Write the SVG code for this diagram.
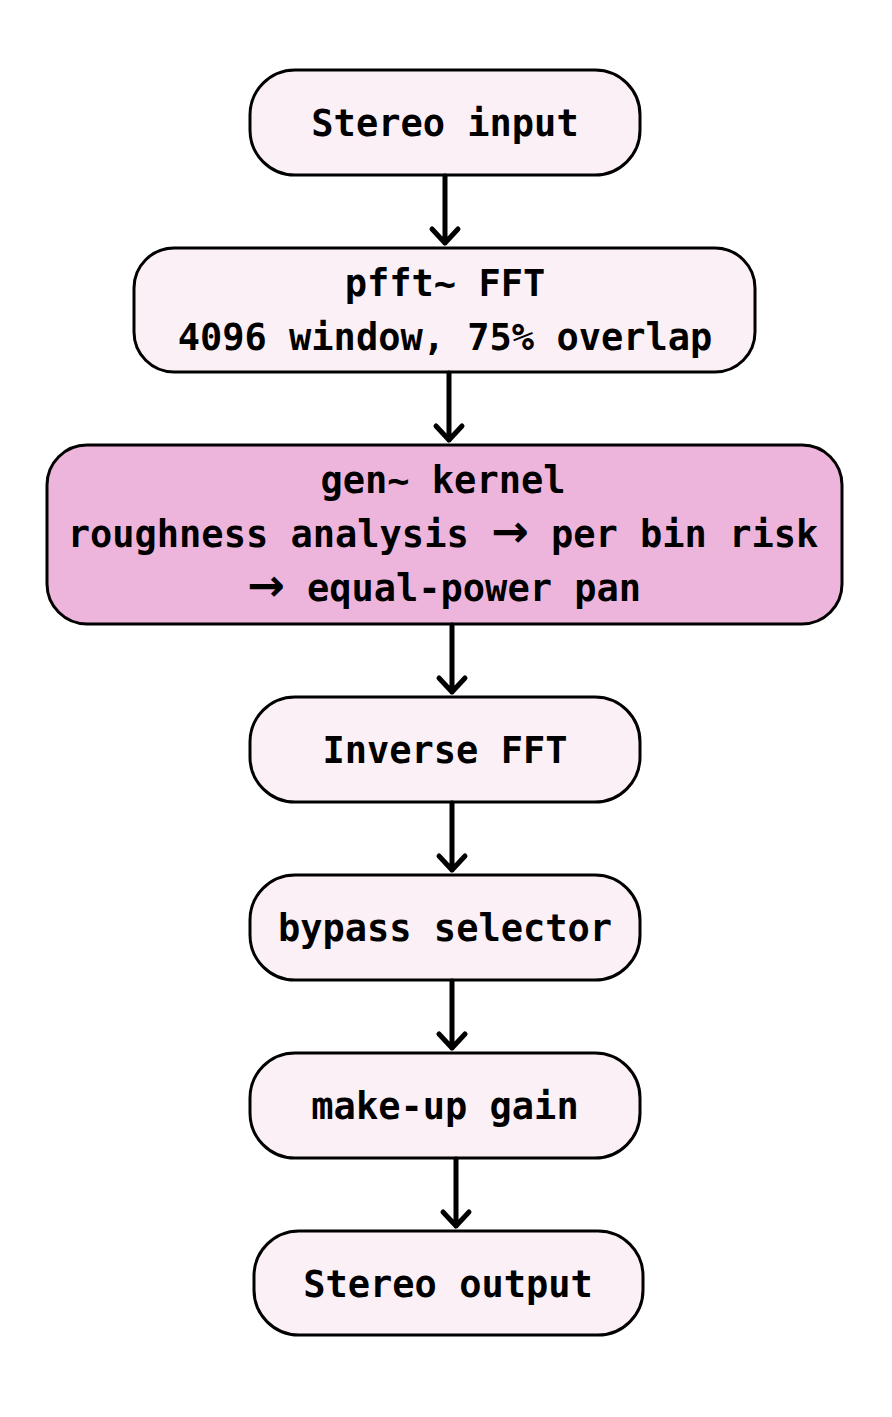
<svg xmlns="http://www.w3.org/2000/svg" width="892" height="1417" viewBox="0 0 892 1417">
<style>
.box{fill:#fcf0f7;stroke:#000;stroke-width:3}
.hl{fill:#eeb5dc}
text{font-family:"DejaVu Sans Mono","Liberation Mono",monospace;font-weight:bold;font-size:37px;fill:#000;text-anchor:middle}
.ar{font-family:"DejaVu Sans",sans-serif;font-size:45px}
.edge{stroke:#000;stroke-width:5;fill:none;stroke-linecap:round;stroke-linejoin:round}
</style>
<rect width="892" height="1417" fill="#fff"/>
<g id="n1"><rect class="box" x="250" y="70" width="390" height="105" rx="45"/><text x="445" y="136">Stereo input</text></g>
<g id="n2"><rect class="box" x="134" y="248" width="621" height="124" rx="40"/><text x="445" y="296">pfft~ FFT</text><text x="445" y="350">4096 window, 75% overlap</text></g>
<g id="n3"><rect class="box hl" x="47" y="445" width="795" height="179" rx="40"/><text x="443" y="493">gen~ kernel</text><text x="443" y="547">roughness analysis <tspan class="ar">→</tspan> per bin risk</text><text x="444" y="601"><tspan class="ar">→</tspan> equal-power pan</text></g>
<g id="n4"><rect class="box" x="250" y="697" width="390" height="105" rx="45"/><text x="445" y="763">Inverse FFT</text></g>
<g id="n5"><rect class="box" x="250" y="875" width="390" height="105" rx="45"/><text x="445" y="941">bypass selector</text></g>
<g id="n6"><rect class="box" x="250" y="1053" width="390" height="105" rx="45"/><text x="445" y="1119">make-up gain</text></g>
<g id="n7"><rect class="box" x="254" y="1231" width="389" height="104" rx="45"/><text x="448" y="1297">Stereo output</text></g>
<g id="edges">
<path class="edge" d="M445 176V243M432 229L445 243L458 229"/>
<path class="edge" d="M449 373V440M436 426L449 440L462 426"/>
<path class="edge" d="M452 625V692M439 678L452 692L465 678"/>
<path class="edge" d="M452 803V870M439 856L452 870L465 856"/>
<path class="edge" d="M452 981V1048M439 1034L452 1048L465 1034"/>
<path class="edge" d="M456 1159V1226M443 1212L456 1226L469 1212"/>
</g>
</svg>
